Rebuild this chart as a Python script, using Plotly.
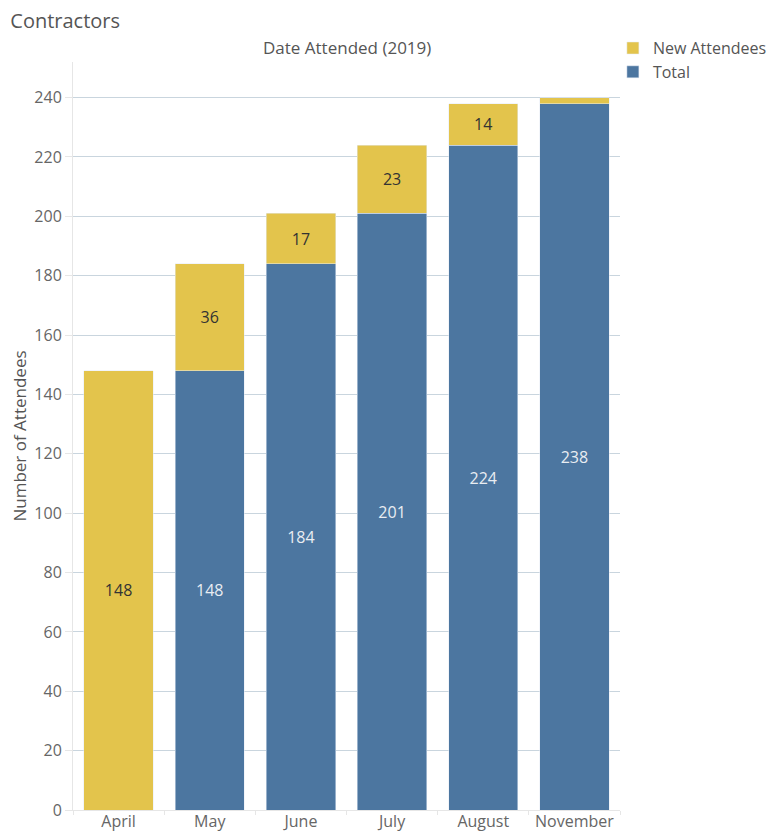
import plotly.graph_objects as go

months = ["April", "May", "June", "July", "August", "November"]
total = [0, 148, 184, 201, 224, 238]
new_attendees = [148, 36, 17, 23, 14, 2]

FONT = "Open Sans"
BLUE = "#4C76A0"
YELLOW = "#E3C44C"

def labels(vals):
    return [str(v) if v >= 5 else "" for v in vals]

fig = go.Figure()
fig.add_trace(go.Bar(
    x=months, y=total, name="Total", marker_color=BLUE,
    text=labels(total), textposition="inside", insidetextanchor="middle",
    textfont=dict(color="#E9EDF2", size=16, family=FONT), hoverinfo="x+y",
))
fig.add_trace(go.Bar(
    x=months, y=new_attendees, name="New Attendees", marker_color=YELLOW,
    text=labels(new_attendees), textposition="inside", insidetextanchor="middle",
    textfont=dict(color="#333333", size=16, family=FONT), hoverinfo="x+y",
))

# page body has an 8px margin, so the figure is drawn 8px in from the corner
fig.update_layout(
    width=770, height=825,
    barmode="stack", bargap=0.24,
    plot_bgcolor="white", paper_bgcolor="white",
    font=dict(family=FONT, color="#666666", size=16),
    margin=dict(l=65, r=158, t=54, b=23, autoexpand=False),
    uniformtext=dict(mode="show", minsize=8),
    title=dict(text="Contractors", x=0.003, xanchor="left", y=0.984, yanchor="middle",
               font=dict(size=20, color="#555555", family=FONT)),
    legend=dict(traceorder="reversed", x=0.987, xanchor="left",
                yref="container", y=0.972, yanchor="top",
                font=dict(size=16, color="#555555"), itemwidth=30,
                tracegroupgap=0, bgcolor="rgba(0,0,0,0)"),
    annotations=[dict(text="Date Attended (2019)", x=0.5, y=1.0, xref="paper", yref="paper",
                      yanchor="bottom", xanchor="center", yshift=1, showarrow=False,
                      font=dict(size=17, color="#555555"))],
)
fig.update_xaxes(
    showgrid=False, showline=True, linecolor="#E6E6E6", linewidth=1, automargin=False,
    ticks="outside", tickson="boundaries", ticklen=4, tickcolor="#E6E6E6",
    tickangle=0, ticklabelstandoff=-3,
    tickfont=dict(size=16, color="#666666"),
)
fig.update_yaxes(
    range=[0, 252], dtick=20, showgrid=True, gridcolor="#C9D5DE", gridwidth=1,
    showline=True, linecolor="#E6E6E6", zeroline=False, automargin=False,
    ticks="outside", ticklen=7, tickcolor="#E6E6E6",
    tickfont=dict(size=16, color="#666666"),
    title=dict(text="Number of Attendees", font=dict(size=17, color="#555555"), standoff=12),
)

fig.write_html("out.html")
